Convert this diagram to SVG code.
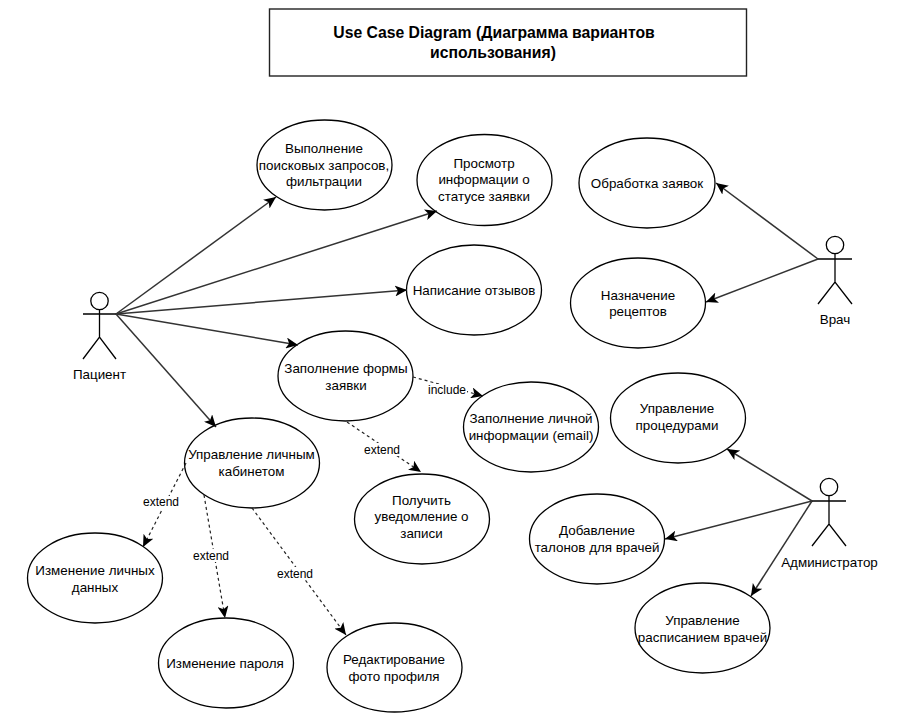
<svg xmlns="http://www.w3.org/2000/svg" width="921" height="716" viewBox="0 0 921 716">
<style>
text{font-family:"Liberation Sans",Arial,sans-serif;font-size:13.4px;fill:#000;text-anchor:middle}
.t{font-weight:bold;font-size:15.75px}
.e{font-size:12px}
.n{fill:#fff;stroke:#000;stroke-width:1.3}
.b{fill:#fff;stroke:#222;stroke-width:1.4}
.a{fill:none;stroke:#000;stroke-width:1.3}
.c{fill:none;stroke:#333;stroke-width:1.5;marker-end:url(#m)}
.d{fill:none;stroke:#222;stroke-width:1.2;stroke-dasharray:3 3;marker-end:url(#m)}
.l{fill:#fff;stroke:none}
</style>
<defs>
<marker id="m" markerUnits="userSpaceOnUse" markerWidth="13" markerHeight="11" refX="12" refY="5.500" orient="auto" viewBox="0 0 13 11"><path d="M0 0L12 5.500L0 11L3 5.500Z" fill="#000"/></marker>
</defs>
<rect width="921" height="716" fill="#fff"/>
<g id="title"><rect class="b" x="269.500" y="9" width="477" height="67"/><text class="t" x="494" y="37.500">Use Case Diagram (Диаграмма вариантов</text><text class="t" x="493" y="57.500">использования)</text></g>
<g id="uc1"><ellipse class="n" cx="324.500" cy="165" rx="67.500" ry="45"/><text x="324" y="153">Выполнение</text><text x="324" y="170">поисковых запросов,</text><text x="324" y="186">фильтрации</text></g>
<g id="uc2"><ellipse class="n" cx="484.500" cy="180" rx="67.500" ry="45.500"/><text x="484" y="168">Просмотр</text><text x="484" y="184">информации о</text><text x="484" y="201">статусе заявки</text></g>
<g id="uc3"><ellipse class="n" cx="647" cy="183" rx="68" ry="45"/><text x="647" y="188">Обработка заявок</text></g>
<g id="uc4"><ellipse class="n" cx="638" cy="303" rx="67.500" ry="45"/><text x="638" y="300">Назначение</text><text x="638" y="316">рецептов</text></g>
<g id="uc5"><ellipse class="n" cx="474" cy="290" rx="67.500" ry="45"/><text x="474" y="295">Написание отзывов</text></g>
<g id="uc6"><ellipse class="n" cx="345.500" cy="376" rx="67.500" ry="45"/><text x="346" y="373">Заполнение формы</text><text x="346" y="390">заявки</text></g>
<g id="uc7"><ellipse class="n" cx="531" cy="427" rx="67.500" ry="45"/><text x="531" y="423">Заполнение личной</text><text x="531" y="440">информации (email)</text></g>
<g id="uc8"><ellipse class="n" cx="678" cy="418" rx="67.500" ry="45"/><text x="677" y="413">Управление</text><text x="677" y="430">процедурами</text></g>
<g id="uc9"><ellipse class="n" cx="252" cy="463" rx="67.500" ry="45"/><text x="251.500" y="459">Управление личным</text><text x="251.500" y="476">кабинетом</text></g>
<g id="uc10"><ellipse class="n" cx="422" cy="519" rx="67.500" ry="45"/><text x="421.500" y="505">Получить</text><text x="421.500" y="521">уведомление о</text><text x="421.500" y="538">записи</text></g>
<g id="uc11"><ellipse class="n" cx="597" cy="539" rx="67.500" ry="45"/><text x="597" y="535">Добавление</text><text x="597" y="552">талонов для врачей</text></g>
<g id="uc12"><ellipse class="n" cx="95" cy="578" rx="67.500" ry="45"/><text x="95" y="575">Изменение личных</text><text x="95" y="592">данных</text></g>
<g id="uc13"><ellipse class="n" cx="702.500" cy="628" rx="67.500" ry="45"/><text x="702.500" y="625">Управление</text><text x="702.500" y="642">расписанием врачей</text></g>
<g id="uc14"><ellipse class="n" cx="226" cy="663" rx="67.500" ry="45"/><text x="225" y="668">Изменение пароля</text></g>
<g id="uc15"><ellipse class="n" cx="394.500" cy="667.500" rx="67.500" ry="44.500"/><text x="394" y="664">Редактирование</text><text x="394" y="681">фото профиля</text></g>
<g id="connectors">
<path class="c" d="M116 314L276 197"/>
<path class="c" d="M116 314L437 211"/>
<path class="c" d="M116 314L407 290"/>
<path class="c" d="M116 314L298 345"/>
<path class="c" d="M116 314L216 427"/>
<path class="c" d="M818 259L716 183"/>
<path class="c" d="M818 259L706 302"/>
<path class="c" d="M812 501L727 449"/>
<path class="c" d="M812 501L665 539"/>
<path class="c" d="M812 501L751 596"/>
<path class="d" d="M413 377L483 396"/>
<path class="d" d="M347 422L421 472"/>
<path class="d" d="M186 463L143 547"/>
<path class="d" d="M204 495L225 618"/>
<path class="d" d="M252 508L346 635"/>
</g>
<g id="labels">
<rect class="l" x="427" y="384" width="40" height="13"/><text class="e" x="447" y="394">include</text>
<rect class="l" x="363" y="443" width="38" height="13"/><text class="e" x="382" y="454">extend</text>
<rect class="l" x="142" y="496" width="38" height="13"/><text class="e" x="161" y="506">extend</text>
<rect class="l" x="192" y="549" width="38" height="13"/><text class="e" x="211" y="560">extend</text>
<rect class="l" x="276" y="567" width="38" height="13"/><text class="e" x="295" y="578">extend</text>
</g>
<g id="actor-patient"><circle class="a" cx="99.500" cy="301" r="8.700"/><path class="a" d="M99.500 310V337M83 314H116M83 359L99.500 337L116 359"/><text x="99.500" y="379">Пациент</text></g>
<g id="actor-doctor"><circle class="a" cx="835" cy="245" r="8.700"/><path class="a" d="M835 254V282M818 259H852M818 304L835 282L852 304"/><text x="835" y="324">Врач</text></g>
<g id="actor-admin"><circle class="a" cx="829" cy="487" r="8.700"/><path class="a" d="M829 496V524M812 501H846M812 546L829 524L846 546"/><text x="829.500" y="566.500">Администратор</text></g>
</svg>
